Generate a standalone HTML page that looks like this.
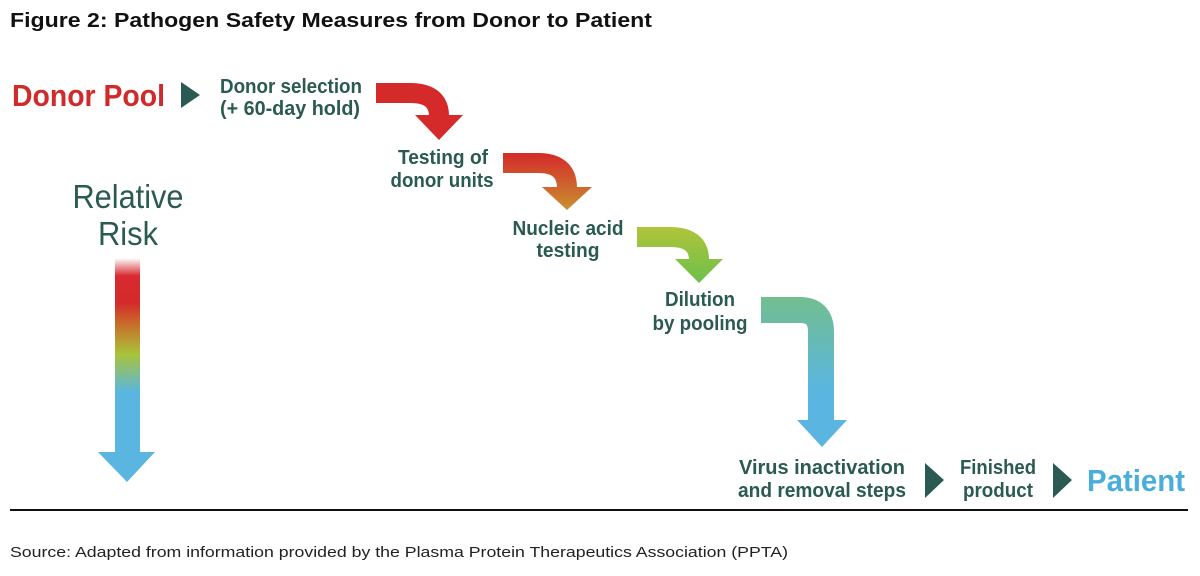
<!DOCTYPE html>
<html><head><meta charset="utf-8"><style>
html,body{margin:0;padding:0;background:#fff;}
svg{display:block}
.c{font-family:"Liberation Sans Narrow","Liberation Sans",sans-serif;font-weight:bold;fill:#2a5a50;}
</style></head><body>
<svg width="1200" height="576" viewBox="0 0 1200 576" xmlns="http://www.w3.org/2000/svg">
<defs>
<linearGradient id="g2" x1="0" y1="153" x2="0" y2="210" gradientUnits="userSpaceOnUse"><stop offset="0" stop-color="#d42a2a"/><stop offset="1" stop-color="#c99030"/></linearGradient>
<linearGradient id="g3" x1="0" y1="227" x2="0" y2="283" gradientUnits="userSpaceOnUse"><stop offset="0" stop-color="#b0c43a"/><stop offset="1" stop-color="#6cc04a"/></linearGradient>
<linearGradient id="g4" x1="0" y1="298" x2="0" y2="390" gradientUnits="userSpaceOnUse"><stop offset="0" stop-color="#72be90"/><stop offset="1" stop-color="#5ab6e0"/></linearGradient>
<linearGradient id="gr" x1="0" y1="258" x2="0" y2="482" gradientUnits="userSpaceOnUse">
<stop offset="0" stop-color="#ffffff"/><stop offset="0.08" stop-color="#d82a30"/><stop offset="0.2" stop-color="#d42a2a"/><stop offset="0.3" stop-color="#c8702a"/><stop offset="0.43" stop-color="#a8c43a"/><stop offset="0.6" stop-color="#5ab6e0"/><stop offset="1" stop-color="#5ab6e0"/></linearGradient>
</defs>
<text x="10" y="27" font-family="Liberation Sans, sans-serif" font-weight="bold" font-size="20" fill="#111" textLength="642" lengthAdjust="spacingAndGlyphs">Figure 2:  Pathogen Safety Measures from Donor to Patient</text>

<text x="12" y="106" class="c" font-size="31" style="fill:#d02a2a" textLength="153" lengthAdjust="spacingAndGlyphs">Donor Pool</text>
<polygon points="181,82 200,95 181,108" fill="#2a5a52"/>
<text x="220" y="93" class="c" font-size="20" textLength="142" lengthAdjust="spacingAndGlyphs">Donor selection</text>
<text x="220" y="115" class="c" font-size="20" textLength="140" lengthAdjust="spacingAndGlyphs">(+ 60-day hold)</text>

<path d="M376,93 H410 Q439,93 439,116" fill="none" stroke="#d42a2a" stroke-width="20"/>
<polygon points="415,115 463,115 439,140" fill="#d42a2a"/>

<text x="443" y="164" class="c" font-size="20" text-anchor="middle" textLength="90" lengthAdjust="spacingAndGlyphs">Testing of</text>
<text x="442" y="187" class="c" font-size="20" text-anchor="middle" textLength="103" lengthAdjust="spacingAndGlyphs">donor units</text>
<path d="M503,163 H538 Q567,163 567,188" fill="none" stroke="url(#g2)" stroke-width="20"/>
<polygon points="542,187 592,187 567,210" fill="url(#g2)"/>

<text x="568" y="235" class="c" font-size="20" text-anchor="middle" textLength="111" lengthAdjust="spacingAndGlyphs">Nucleic acid</text>
<text x="568" y="257" class="c" font-size="20" text-anchor="middle" textLength="63" lengthAdjust="spacingAndGlyphs">testing</text>
<path d="M637,237 H670 Q699,237 699,260" fill="none" stroke="url(#g3)" stroke-width="20"/>
<polygon points="675,259 723,259 699,283" fill="url(#g3)"/>

<text x="700" y="306" class="c" font-size="20" text-anchor="middle" textLength="70" lengthAdjust="spacingAndGlyphs">Dilution</text>
<text x="700" y="330" class="c" font-size="20" text-anchor="middle" textLength="95" lengthAdjust="spacingAndGlyphs">by pooling</text>
<path d="M761,310 H800 Q821,310 821,332 V422" fill="none" stroke="url(#g4)" stroke-width="26"/>
<polygon points="797,420 847,420 822,447" fill="#5ab6e0"/>

<text x="822" y="474" class="c" font-size="20" text-anchor="middle" textLength="166" lengthAdjust="spacingAndGlyphs">Virus inactivation</text>
<text x="822" y="497" class="c" font-size="20" text-anchor="middle" textLength="168" lengthAdjust="spacingAndGlyphs">and removal steps</text>
<polygon points="925,463 944,480 925,498" fill="#2a5a52"/>
<text x="998" y="474" class="c" font-size="20" text-anchor="middle" textLength="76" lengthAdjust="spacingAndGlyphs">Finished</text>
<text x="998" y="497" class="c" font-size="20" text-anchor="middle" textLength="70" lengthAdjust="spacingAndGlyphs">product</text>
<polygon points="1053,463 1072,480 1053,498" fill="#2a5a52"/>
<text x="1087" y="491" class="c" font-size="31" style="fill:#4aaedc" textLength="98" lengthAdjust="spacingAndGlyphs">Patient</text>

<text x="128" y="208" font-family="Liberation Sans Narrow, Liberation Sans, sans-serif" font-size="33" fill="#2a5a50" text-anchor="middle" textLength="111" lengthAdjust="spacingAndGlyphs">Relative</text>
<text x="128" y="245" font-family="Liberation Sans Narrow, Liberation Sans, sans-serif" font-size="33" fill="#2a5a50" text-anchor="middle" textLength="60" lengthAdjust="spacingAndGlyphs">Risk</text>
<rect x="115" y="258" width="25" height="196" fill="url(#gr)"/>
<polygon points="98,452 155,452 127,482" fill="#5ab6e0"/>

<rect x="10" y="509" width="1178" height="2" fill="#111"/>
<text x="10" y="557" font-family="Liberation Sans, sans-serif" font-size="15" fill="#222" textLength="778" lengthAdjust="spacingAndGlyphs">Source:  Adapted from information provided by the Plasma Protein Therapeutics Association (PPTA)</text>
</svg>
</body></html>
